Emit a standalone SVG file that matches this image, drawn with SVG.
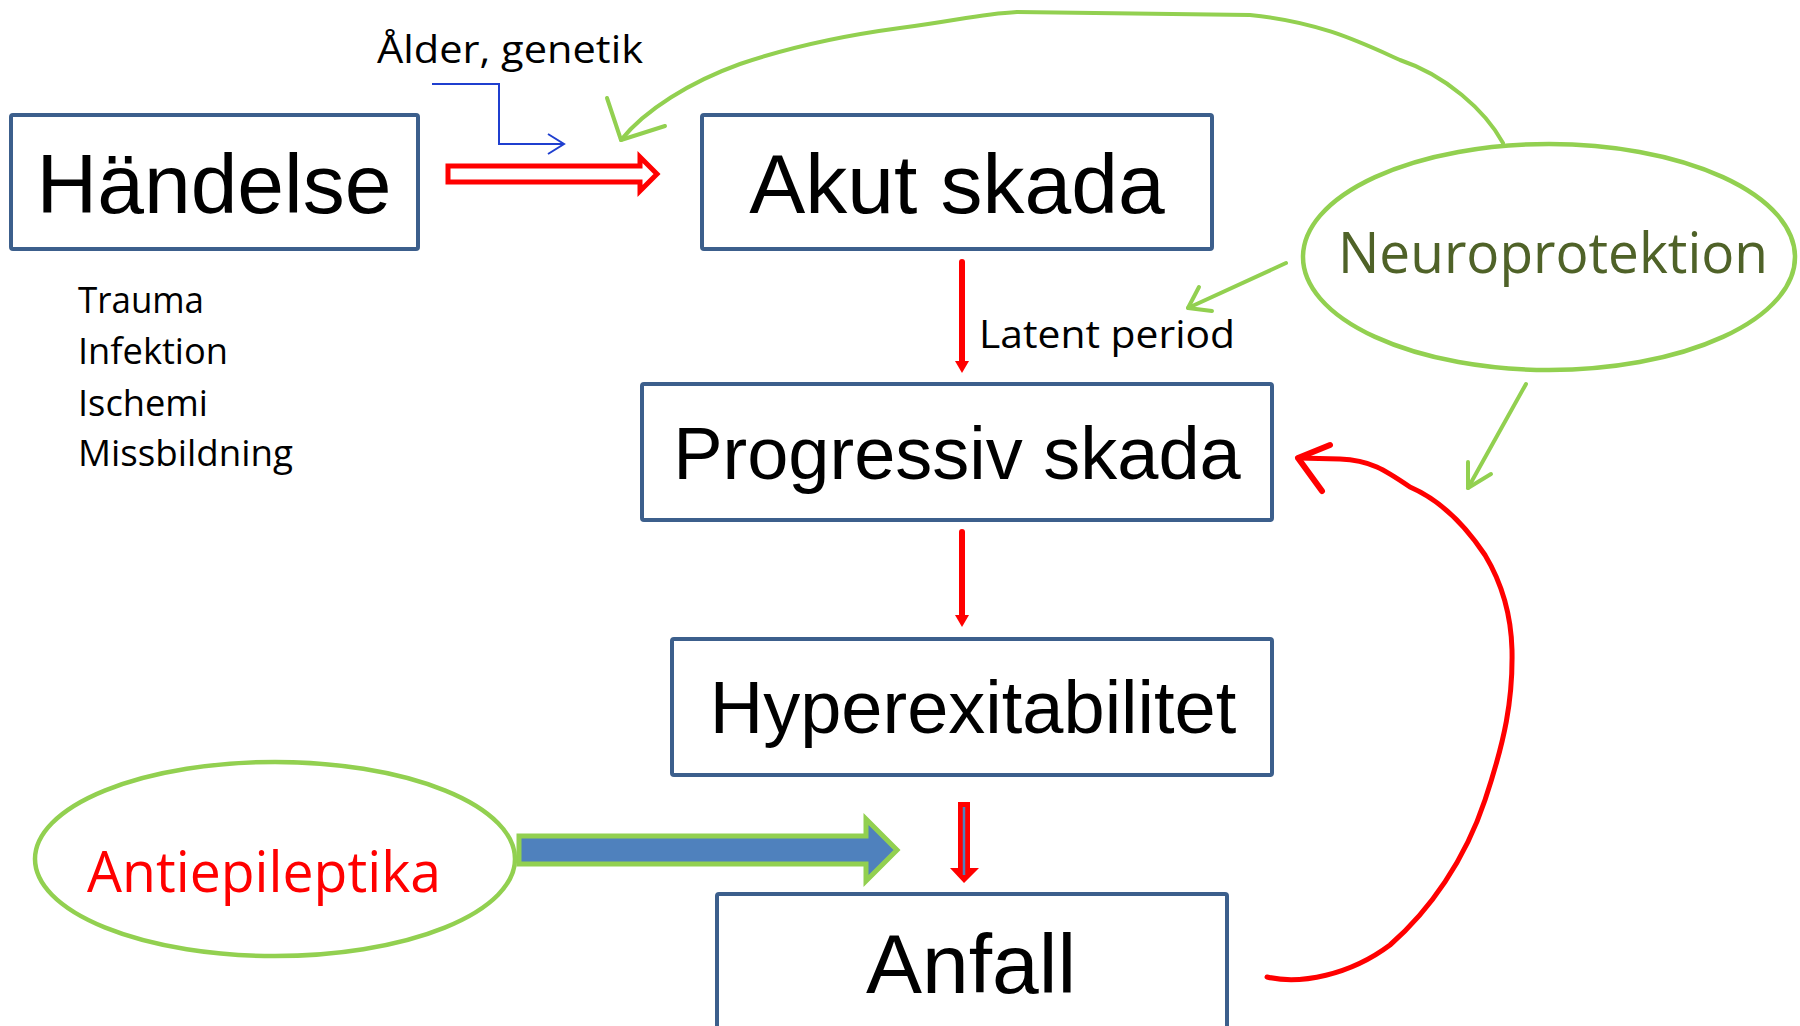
<svg xmlns="http://www.w3.org/2000/svg" width="1800" height="1026" viewBox="0 0 1800 1026">
<style>
.box{fill:#fff;stroke:#3c5f8c;stroke-width:4}
.big{font-family:"Liberation Sans",Arial,sans-serif;fill:#000;text-anchor:middle}
.cal{font-family:"Open Sans","Liberation Sans",sans-serif;fill:#000}
.green{fill:none;stroke:#92d050;stroke-width:4;stroke-linecap:round;stroke-linejoin:round}
.red{fill:none;stroke:#ff0000;stroke-linecap:round;stroke-linejoin:round}
</style>
<rect width="1800" height="1026" fill="#fff"/>
<g id="connectors">
  <!-- Händelse -> Akut skada hollow arrow -->
  <path d="M448,166 L640,166 L640,157 L657,174 L640,191 L640,182 L448,182 Z" fill="#fff" stroke="#ff0000" stroke-width="5" stroke-linejoin="miter"/>
  <!-- Ålder, genetik elbow -->
  <path d="M432,84 L499,84 L499,144 L564,144" fill="none" stroke="#1f3fcf" stroke-width="2"/>
  <path d="M548,134 L564,144 L548,154" fill="none" stroke="#1f3fcf" stroke-width="2"/>
  <!-- Neuroprotektion top curve to Akut skada -->
  <path class="green" stroke-width="5" d="M1503,143 C1485,110 1445,75 1400,60 C1360,42 1320,22 1250,15 L1017,12 C980,14 960,20 900,28 C840,36 790,47 740,64 C690,82 645,110 621,140"/>
  <path class="green" stroke-width="6" d="M607,98 L621,140 L665,126"/>
  <!-- Neuroprotektion -> latent -->
  <path class="green" d="M1286,263 L1188,308"/>
  <path class="green" d="M1199,287 L1188,308 L1212,311"/>
  <!-- Neuroprotektion -> progressiv -->
  <path class="green" d="M1526,384 L1468,488"/>
  <path class="green" d="M1468,462 L1468,488 L1491,474"/>
  <!-- Akut -> Progressiv -->
  <path class="red" stroke-width="6" stroke-linecap="butt" d="M962,262 L962,362"/>
  <path d="M955,361 L969,361 L962,373 Z" fill="#ff0000"/>
  <!-- Progressiv -> Hyper -->
  <path class="red" stroke-width="6" stroke-linecap="butt" d="M962,532 L962,616"/>
  <path d="M955,615 L969,615 L962,627 Z" fill="#ff0000"/>
  <!-- Hyper -> Anfall -->
  <path d="M958,802 L970,802 L970,868 L979,868 L964,883 L950,868 L958,868 Z" fill="#ff0000"/>
  <path d="M964,807 L964,875" stroke="#4f81bd" stroke-width="2.5" fill="none"/>
  <!-- Antiepileptika block arrow -->
  <path d="M519,836 L866,836 L866,819 L897,850 L866,881 L866,864 L519,864 Z" fill="#4f81bd" stroke="#92d050" stroke-width="5" stroke-linejoin="miter"/>
  <!-- Anfall -> Progressiv curve -->
  <path class="red" stroke-width="5" d="M1267,977 C1300,985 1350,975 1390,945 C1430,910 1465,860 1485,800 C1505,740 1513,700 1512,650 C1511,610 1500,580 1485,555 C1465,525 1440,500 1410,487 C1385,470 1370,460 1340,459 L1298,458"/>
  <path class="red" stroke-width="6" d="M1330,445 L1298,458 L1322,491"/>
</g>
<g id="n-handelse">
  <rect class="box" x="11" y="115" width="407" height="134" rx="2"/>
  <text class="big" x="214" y="213" font-size="84">Händelse</text>
</g>
<g id="n-causes">
  <text class="cal" x="78" y="313" font-size="37" textLength="126" lengthAdjust="spacingAndGlyphs">Trauma</text>
  <text class="cal" x="78" y="364" font-size="37" textLength="150" lengthAdjust="spacingAndGlyphs">Infektion</text>
  <text class="cal" x="78" y="416" font-size="37" textLength="130" lengthAdjust="spacingAndGlyphs">Ischemi</text>
  <text class="cal" x="78" y="466" font-size="37" textLength="215" lengthAdjust="spacingAndGlyphs">Missbildning</text>
</g>
<g id="n-alder">
  <text class="cal" x="377" y="63" font-size="39" textLength="266" lengthAdjust="spacingAndGlyphs">Ålder, genetik</text>
</g>
<g id="n-akut">
  <rect class="box" x="702" y="115" width="510" height="134" rx="2"/>
  <text class="big" x="957" y="213" font-size="84">Akut skada</text>
</g>
<g id="n-latent">
  <text class="cal" x="979" y="348" font-size="39" textLength="256" lengthAdjust="spacingAndGlyphs">Latent period</text>
</g>
<g id="n-neuro">
  <ellipse cx="1549" cy="257" rx="246" ry="113" fill="#fff" stroke="#92d050" stroke-width="4.5"/>
  <text class="cal" x="1338" y="273" font-size="56" style="fill:#4f6228" textLength="430" lengthAdjust="spacingAndGlyphs">Neuroprotektion</text>
</g>
<g id="n-progressiv">
  <rect class="box" x="642" y="384" width="630" height="136" rx="2"/>
  <text class="big" x="957" y="479" font-size="74">Progressiv skada</text>
</g>
<g id="n-hyper">
  <rect class="box" x="672" y="639" width="600" height="136" rx="2"/>
  <text class="big" x="973" y="733" font-size="74">Hyperexitabilitet</text>
</g>
<g id="n-anfall">
  <rect class="box" x="717" y="894" width="510" height="160" rx="2"/>
  <text class="big" x="971" y="993" font-size="84">Anfall</text>
</g>
<g id="n-antiepileptika">
  <ellipse cx="275" cy="859" rx="240" ry="97" fill="#fff" stroke="#92d050" stroke-width="4.5"/>
  <text class="cal" x="87" y="892" font-size="56" style="fill:#ff0000" textLength="354" lengthAdjust="spacingAndGlyphs">Antiepileptika</text>
</g>
</svg>
